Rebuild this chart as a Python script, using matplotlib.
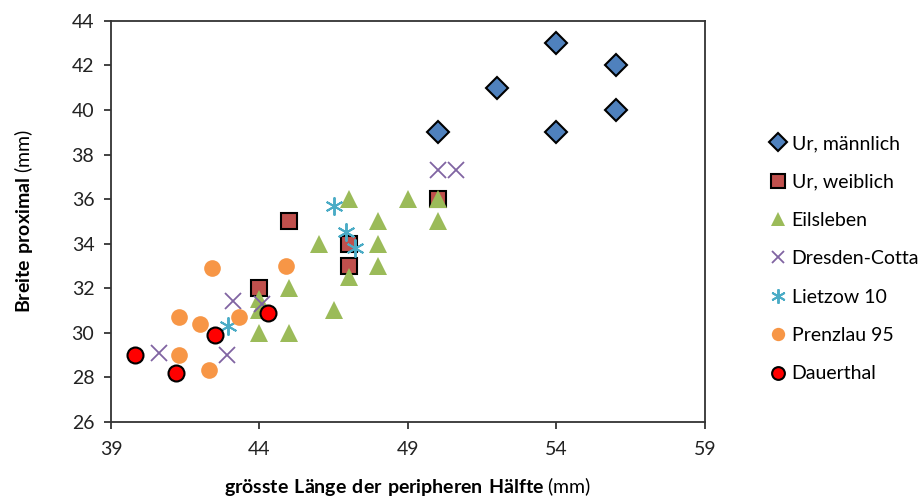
import numpy as np
import matplotlib
matplotlib.use('Agg')
import matplotlib.pyplot as plt

plt.rcParams['font.family'] = ['Lato', 'DejaVu Sans']
plt.rcParams['mathtext.fontset'] = 'custom'
plt.rcParams['mathtext.rm'] = 'Lato'
plt.rcParams['mathtext.bf'] = 'Lato:bold'

# data (x = grösste Länge, y = Breite proximal)
ur_m_x = [50, 52, 54, 54, 56, 56]
ur_m_y = [39, 41, 43, 39, 42, 40]

ur_w_x = [45, 44, 47, 47, 50]
ur_w_y = [35, 32, 34, 33, 36]

eils_x = [47, 49, 50, 48, 50, 46, 48, 48, 47, 45, 44, 44, 46.5, 44, 45]
eils_y = [36, 36, 36, 35, 35, 34, 34, 33, 32.5, 32, 31.5, 31, 31, 30, 30]

dresden_x = [50, 50.6, 40.6, 43.1, 42.9, 44.1]
dresden_y = [37.3, 37.3, 29.1, 31.4, 29.0, 31.3]

lietzow_x = [46.5, 46.9, 47.2, 42.95]
lietzow_y = [35.7, 34.5, 33.8, 30.3]

prenzlau_x = [42.4, 44.9, 41.3, 42.0, 43.3, 41.3, 42.3]
prenzlau_y = [32.9, 33.0, 30.7, 30.4, 30.7, 29.0, 28.3]

dauer_x = [39.8, 41.2, 42.5, 44.3]
dauer_y = [29.0, 28.2, 29.9, 30.9]

fs = 14

fig = plt.figure(figsize=(9.22, 4.99), dpi=100)
ax = fig.add_axes([0.1204, 0.155, 0.6442, 0.803])

ax.plot(ur_m_x, ur_m_y, 'D', ms=11, mfc='#4F81BD', mec='black', mew=1.5, label='Ur, männlich')
ax.plot(ur_w_x, ur_w_y, 's', ms=12, mfc='#C0504D', mec='black', mew=1.5, label='Ur, weiblich')
ax.plot(eils_x, eils_y, '^', ms=13, mfc='#9BBB59', mec='#9BBB59', mew=0, label='Eilsleben')
ax.plot(dresden_x, dresden_y, 'x', ms=11, mec='#8064A2', mew=1.3, label='Dresden-Cotta')
ax.plot(lietzow_x, lietzow_y, marker=(6, 2, 0), ls='none', ms=13, mec='#4BACC6', mew=1.4, label='Lietzow 10')
ax.plot(prenzlau_x, prenzlau_y, 'o', ms=12, mfc='#F79646', mec='#F79646', mew=0, label='Prenzlau 95')
ax.plot(dauer_x, dauer_y, 'o', ms=11.5, mfc='#FF0000', mec='black', mew=1.5, label='Dauerthal')

ax.set_xlim(39, 59)
ax.set_ylim(26, 44)
ax.set_xticks(np.arange(39, 60, 5))
ax.set_yticks(np.arange(26, 45, 2))
ax.tick_params(direction='out', length=5, width=1.2, labelsize=fs, colors='#222222')
ax.tick_params(axis='x', pad=9)
ax.tick_params(axis='y', pad=7)
for s in ax.spines.values():
    s.set_linewidth(1.3)
    s.set_color('#333333')

ax.set_xlabel(r'$\mathbf{grösste\ Länge\ der\ peripheren\ Hälfte}$ (mm)', fontsize=fs, labelpad=12)
ax.set_ylabel(r'$\mathbf{Breite\ proximal}$ (mm)', fontsize=fs, labelpad=26)

handles, labels = ax.get_legend_handles_labels()
fig.legend(handles, labels, loc='upper left', bbox_to_anchor=(0.827, 0.745),
           frameon=False, fontsize=fs, handlelength=0.8, handletextpad=0.3,
           labelspacing=1.1, borderaxespad=0, markerscale=0.8)

plt.savefig('out.png', dpi=100)
